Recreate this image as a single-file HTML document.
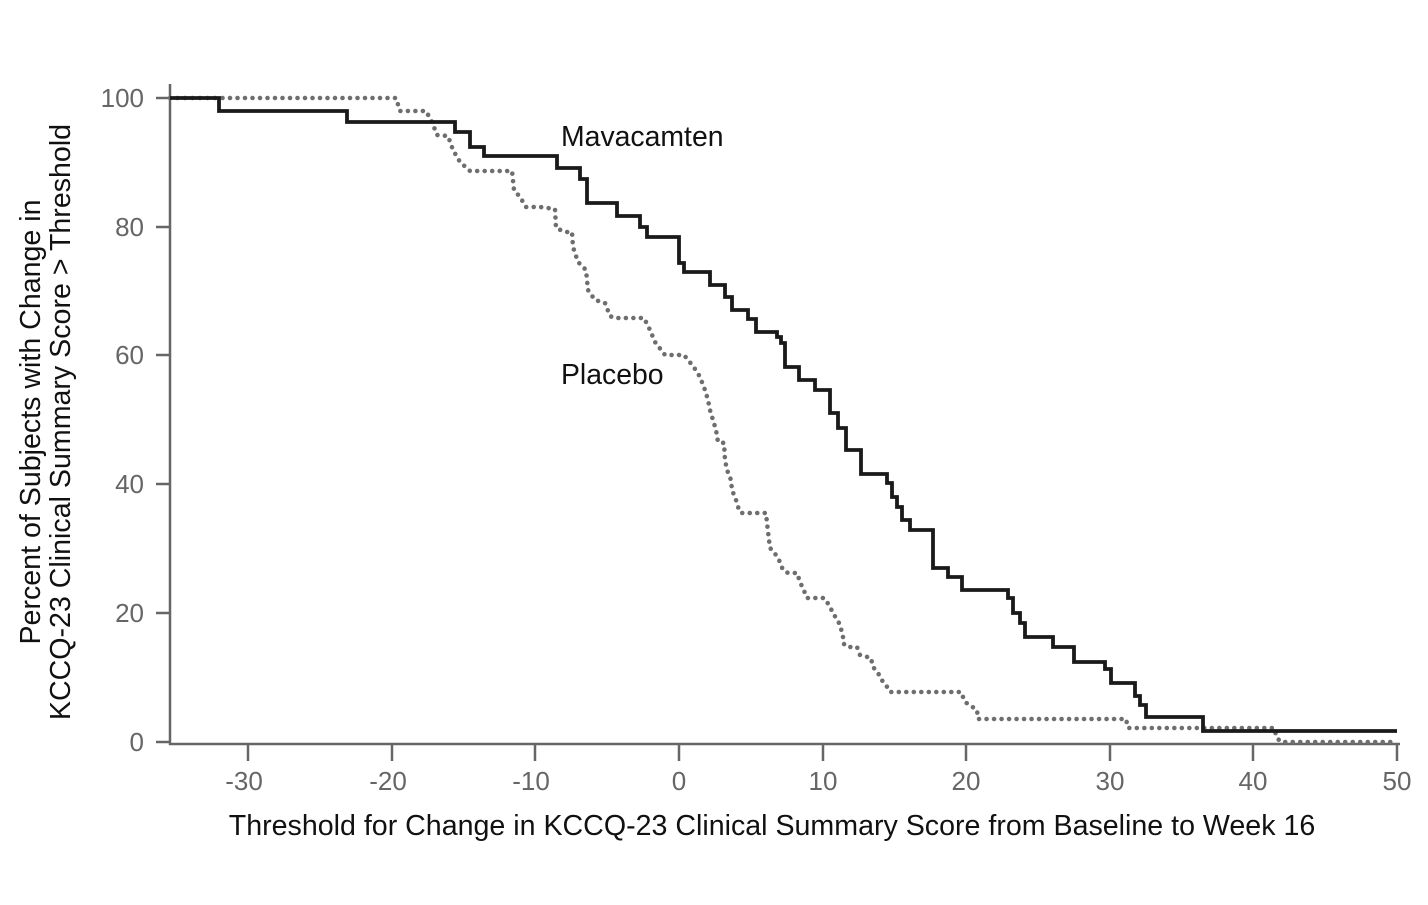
<!DOCTYPE html>
<html><head><meta charset="utf-8"><style>html,body{margin:0;padding:0;background:#fff}</style></head>
<body>
<svg width="1428" height="900" xmlns="http://www.w3.org/2000/svg" font-family="Liberation Sans, Arial, sans-serif">
<rect width="1428" height="900" fill="#fff"/>
<g stroke="#666" stroke-width="2.5" fill="none">
<line x1="170" y1="84" x2="170" y2="745"/>
<line x1="169" y1="744" x2="1400" y2="744"/>
<line x1="156" y1="742" x2="170" y2="742"/><line x1="156" y1="613" x2="170" y2="613"/><line x1="156" y1="484" x2="170" y2="484"/><line x1="156" y1="355" x2="170" y2="355"/><line x1="156" y1="227" x2="170" y2="227"/><line x1="156" y1="98" x2="170" y2="98"/>
<line x1="248" y1="744" x2="248" y2="761"/><line x1="392" y1="744" x2="392" y2="761"/><line x1="535" y1="744" x2="535" y2="761"/><line x1="679" y1="744" x2="679" y2="761"/><line x1="823" y1="744" x2="823" y2="761"/><line x1="966" y1="744" x2="966" y2="761"/><line x1="1110" y1="744" x2="1110" y2="761"/><line x1="1253" y1="744" x2="1253" y2="761"/><line x1="1397" y1="744" x2="1397" y2="761"/>
</g>
<g fill="#666" font-size="26" text-anchor="end">
<text x="144" y="751">0</text><text x="144" y="622">20</text><text x="144" y="493">40</text><text x="144" y="364">60</text><text x="144" y="236">80</text><text x="144" y="107">100</text>
</g>
<g fill="#666" font-size="26" text-anchor="middle">
<text x="244" y="790">-30</text><text x="388" y="790">-20</text><text x="531" y="790">-10</text><text x="679" y="790">0</text><text x="823" y="790">10</text><text x="966" y="790">20</text><text x="1110" y="790">30</text><text x="1253" y="790">40</text><text x="1397" y="790">50</text>
</g>
<text x="772" y="835" font-size="28.6" text-anchor="middle" fill="#111">Threshold for Change in KCCQ-23 Clinical Summary Score from Baseline to Week 16</text>
<g transform="translate(40,422) rotate(-90)" font-size="28.6" text-anchor="middle" fill="#111">
<text x="0" y="0">Percent of Subjects with Change in</text>
<text x="0" y="30">KCCQ-23 Clinical Summary Score &gt; Threshold</text>
</g>
<text x="561" y="146" font-size="28.4" fill="#111">Mavacamten</text>
<text x="561" y="384" font-size="28.4" fill="#111">Placebo</text>
<polyline fill="none" stroke="#6e6e6e" stroke-width="4.6" stroke-linecap="round" stroke-dasharray="0 7.5" points="170,98 396,98 400,111 426,111 432,122 437,135 448,136 453,150 460,162 470,171 512,171 514,190 520,197 526,207 540,207 555,209 556,228 565,232 572,232 573,247 578,262 586,270 588,290 590,293 595,300 605,303 610,316 614,318 644,318 650,330 655,342 665,355 684,355 688,360 693,366 697,372 700,377 705,390 708,400 710,410 713,420 716,430 718,442 724,443 725,460 727,470 731,480 732,490 736,500 739,510 741,513 766,513 767,523 769,540 770,548 774,552 779,560 783,570 788,573 797,573 800,582 805,593 807,598 824,598 829,605 833,613 839,623 843,635 843,643 847,647 857,647 860,655 871,658 873,667 878,673 883,682 888,688 890,692 961,692 965,702 977,710 978,719 1126,719 1128,728 1274,728 1277,738 1281,742 1396,742"/>
<polyline fill="none" stroke="#1a1a1a" stroke-width="3.8" points="170,98 219,98 219,111 347,111 347,122 455,122 455,132 470,132 470,147 484,147 484,156 557,156 557,168 580,168 580,179 587,179 587,203 617,203 617,216 640,216 640,227 647,227 647,237 679,237 679,263 684,263 684,272 710,272 710,285 725,285 725,297 732,297 732,310 748,310 748,319 756,319 756,332 777,332 777,337 781,337 781,343 785,343 785,367 799,367 799,380 815,380 815,390 830,390 830,413 838,413 838,428 846,428 846,450 861,450 861,474 887,474 887,483 892,483 892,497 897,497 897,507 902,507 902,520 910,520 910,530 933,530 933,568 948,568 948,577 962,577 962,590 1008,590 1008,598 1013,598 1013,613 1020,613 1020,623 1025,623 1025,637 1053,637 1053,647 1074,647 1074,662 1105,662 1105,669 1111,669 1111,683 1135,683 1135,696 1140,696 1140,705 1146,705 1146,717 1203,717 1203,731 1397,731"/>
</svg>
</body></html>
